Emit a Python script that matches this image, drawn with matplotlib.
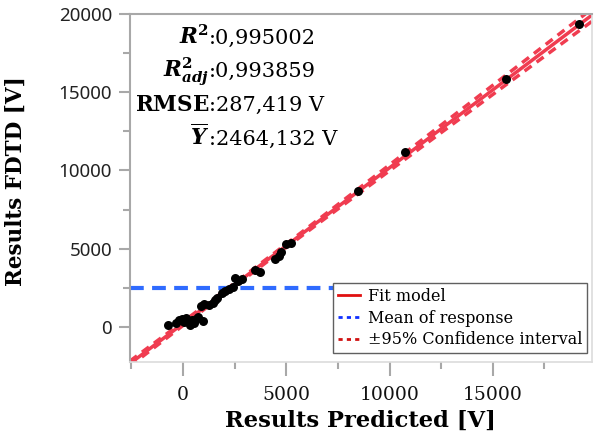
import numpy as np
import matplotlib
matplotlib.use("Agg")
import matplotlib.pyplot as plt
from matplotlib.lines import Line2D
from matplotlib.ticker import MultipleLocator

# predicted vs FDTD results
predicted = [-726, -339, -194, -48, 48, 145, 242, 339, 436, 532, 629, 726, 968,
             871, 1016, 1258, 1452, 1549, 1646, 1888, 2033, 2226, 2420, 2517,
             2662, 2856, 3485, 3727, 4453, 4646, 4743, 4985, 5227, 8470, 10745,
             15634, 19168]
fdtd = [128, 256, 449, 513, 320, 577, 385, 128, 449, 256, 513, 641, 385,
        1346, 1474, 1410, 1538, 1731, 1859, 2179, 2308, 2436, 2564, 3141,
        2949, 3077, 3654, 3526, 4359, 4551, 4808, 5320, 5384, 8654, 11154,
        15833, 19359]

mean_response = 2464.132
stat_labels = [r'$\mathbfit{R}^{\mathbf{2}}$', r'$\mathbfit{R}^{\mathbf{2}}_{\mathbfit{adj}}$',
               r'$\mathbf{RMSE}$', r'$\overline{\mathbfit{Y}}$']
stat_values = [':0,995002', ':0,993859', ':287,419 V', ':2464,132 V']

x = np.array(predicted, dtype=float)
y = np.array(fdtd, dtype=float)

# simple linear fit + 95% CI of the mean
slope, intercept = np.polyfit(x, y, 1)
n = len(x)
resid = y - (slope * x + intercept)
s = np.sqrt(np.sum(resid ** 2) / (n - 2))
sxx = np.sum((x - x.mean()) ** 2)
t_val = 2.03

xlim = (-2565, 19800)
ylim = (-2250, 20000)
xs = np.linspace(xlim[0], xlim[1], 200)
fit = slope * xs + intercept
half = t_val * s * np.sqrt(1 / n + (xs - x.mean()) ** 2 / sxx)

plt.rcParams['mathtext.fontset'] = 'dejavuserif'

red = '#f03c50'
blue = '#2f6bff'
gray = '#a8a8a8'

fig = plt.figure(figsize=(5.94, 4.32), dpi=100)
ax = fig.add_axes([130 / 594, 1 - 362 / 432, 462 / 594, 348 / 432])

ax.axhline(mean_response, color=blue, lw=3, linestyle=(0, (3.3, 2)), zorder=1)
ax.plot(xs, fit, color=red, lw=2.5, zorder=2)
ax.plot(xs, fit + half, color=red, lw=2.5, linestyle=(0, (2.5, 1.8)), zorder=2)
ax.plot(xs, fit - half, color=red, lw=2.5, linestyle=(0, (2.5, 1.8)), zorder=2)
ax.scatter(x, y, s=42, color='black', zorder=3, linewidths=0)

ax.set_xlim(xlim)
ax.set_ylim(ylim)

ax.xaxis.set_major_locator(MultipleLocator(5000))
ax.xaxis.set_minor_locator(MultipleLocator(2500))
ax.yaxis.set_major_locator(MultipleLocator(5000))
ax.yaxis.set_minor_locator(MultipleLocator(2500))

for side in ['left', 'top']:
    ax.spines[side].set_color(gray)
    ax.spines[side].set_linewidth(1.5)
for side in ['right', 'bottom']:
    ax.spines[side].set_color('#dcdcdc')
    ax.spines[side].set_linewidth(1.2)

ax.tick_params(axis='both', which='major', length=8, width=1.5, color=gray, direction='out')
ax.tick_params(axis='both', which='minor', length=5, width=1.5, color=gray, direction='out')
ax.tick_params(axis='x', which='major', length=10, pad=7)
ax.tick_params(axis='y', which='major', pad=5)

for lab in ax.get_yticklabels():
    lab.set_fontfamily('Noto Sans')
    lab.set_fontsize(13.5)
    lab.set_color('#222222')
for lab in ax.get_xticklabels():
    lab.set_fontfamily('DejaVu Serif')
    lab.set_fontsize(13.5)
    lab.set_color('#111111')

ax.set_xlabel('Results Predicted [V]', fontfamily='DejaVu Serif', fontweight='bold', fontsize=16.3)
ax.set_ylabel('Results FDTD [V]', fontfamily='DejaVu Serif', fontweight='bold', fontsize=15.5)
ax.xaxis.set_label_coords(0.498, -0.138)
ax.yaxis.set_label_coords(-0.223, 0.52)

# stats text block, colons aligned
baselines = [44, 77, 111, 145]
for lab, val, yb in zip(stat_labels, stat_values, baselines):
    fig.text(209 / 594, 1 - yb / 432, lab, ha='right', va='baseline', fontsize=15.5,
             fontfamily='DejaVu Serif')
    fig.text(209 / 594, 1 - yb / 432, val, ha='left', va='baseline', fontsize=15,
             fontfamily='DejaVu Serif')

handles = [Line2D([], [], color='#e01010', lw=2),
           Line2D([], [], color='#1030ff', lw=2, linestyle=(0, (1.5, 1.5))),
           Line2D([], [], color='#d01010', lw=2, linestyle=(0, (1.5, 1.5)))]
leg = ax.legend(handles, ['Fit model', 'Mean of response', '±95% Confidence interval'],
                loc='upper left', bbox_to_anchor=((333 - 130) / 462, (362 - 283) / 348),
                borderaxespad=0, fancybox=False, framealpha=1, edgecolor='#606060',
                prop={'family': 'DejaVu Serif', 'size': 11.5}, handlelength=1.4,
                handletextpad=0.5, labelspacing=0.3, borderpad=0.3)
leg.get_frame().set_linewidth(1.0)

fig.savefig('out.png', dpi=100)
